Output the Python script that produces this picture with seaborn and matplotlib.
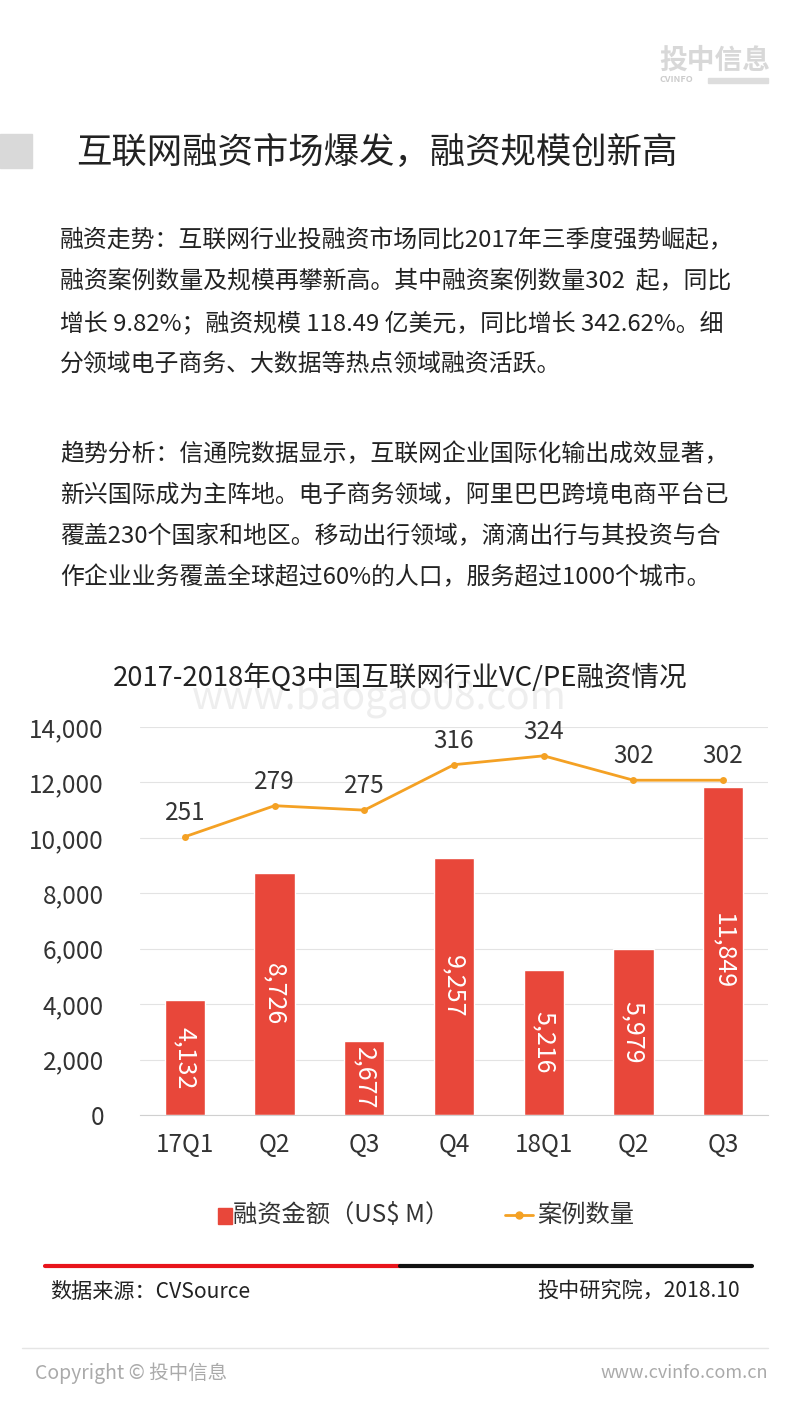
import matplotlib
matplotlib.use("Agg")
import matplotlib.pyplot as plt
import seaborn as sns
import pandas as pd
from matplotlib.patches import Rectangle
from matplotlib.lines import Line2D

quarters = ["17Q1", "Q2", "Q3", "Q4", "18Q1", "Q2 ", "Q3 "]
amounts = [4132, 8726, 2677, 9257, 5216, 5979, 11849]
cases = [251, 279, 275, 316, 324, 302, 302]

sns.set_style("white")
plt.rcParams['font.family'] = ['Noto Sans CJK SC', 'DejaVu Sans']

W, H = 800, 1422
fig = plt.figure(figsize=(8, 14.22), dpi=100)

def fx(x):
    return x / W

def fy(y):
    return 1 - y / H

# header
fig.text(fx(659), fy(61), "投中信息", fontsize=20, color="#d8d8d8", weight="bold", va="center")
fig.text(fx(660), fy(80), "CVINFO", fontsize=6.5, color="#cccccc", weight="bold", va="center")
fig.patches.append(Rectangle((fx(708), fy(83)), fx(60), 5 / H, transform=fig.transFigure, color="#dddddd"))
fig.patches.append(Rectangle((0, fy(168)), fx(32), 34 / H, transform=fig.transFigure, color="#d9d9d9"))
fig.text(fx(76), fy(153), "互联网融资市场爆发，融资规模创新高", fontsize=25.5, color="#222222", va="center")

para1 = ["融资走势：互联网行业投融资市场同比2017年三季度强势崛起，",
         "融资案例数量及规模再攀新高。其中融资案例数量302  起，同比",
         "增长 9.82%；融资规模 118.49 亿美元，同比增长 342.62%。细",
         "分领域电子商务、大数据等热点领域融资活跃。"]
para2 = ["趋势分析：信通院数据显示，互联网企业国际化输出成效显著，",
         "新兴国际成为主阵地。电子商务领域，阿里巴巴跨境电商平台已",
         "覆盖230个国家和地区。移动出行领域，滴滴出行与其投资与合",
         "作企业业务覆盖全球超过60%的人口，服务超过1000个城市。"]
for i, t in enumerate(para1):
    fig.text(fx(60), fy(241 + 41 * i), t, fontsize=17.2, color="#222222", va="center")
for i, t in enumerate(para2):
    fig.text(fx(60), fy(455 + 41 * i), t, fontsize=17.2, color="#222222", va="center")

fig.text(fx(192), fy(698), "www.baogao08.com", fontsize=28, color="#eeeeee", va="center", zorder=0)
fig.text(0.5, fy(678), "2017-2018年Q3中国互联网行业VC/PE融资情况", fontsize=19.8, color="#222222",
         ha="center", va="center", zorder=3)

# chart
ax = fig.add_axes([fx(140), fy(1115), fx(628), (1115 - 727) / H])
df = pd.DataFrame({"q": quarters, "amt": amounts, "n": cases})
sns.barplot(data=df, x="q", y="amt", color="#E8473A", width=0.45, saturation=1, ax=ax, zorder=2)
ax.set_ylim(0, 14000)
ax.set_yticks(range(0, 14001, 2000))
ax.set_yticklabels([f"{v:,}" for v in range(0, 14001, 2000)], fontsize=17.5, color="#333333")
ax.set_xticks(range(len(quarters)))
ax.set_xticklabels([q.strip() for q in quarters], fontsize=17.5, color="#333333")
ax.tick_params(axis="x", pad=12, length=0)
ax.tick_params(axis="y", length=0, pad=26)
ax.set_xlabel("")
ax.set_ylabel("")
ax.grid(axis="y", color="#e3e3e3", lw=0.8, zorder=0)
for s in ["top", "right", "left"]:
    ax.spines[s].set_visible(False)
ax.spines["bottom"].set_color("#d0d0d0")
for i, v in enumerate(amounts):
    ax.text(i, v / 2, f"{v:,}", rotation=-90, color="white", fontsize=18, ha="center", va="center")

ax2 = ax.twinx()
sns.lineplot(x=list(range(len(quarters))), y=cases, color="#F4A124", marker="o", markersize=5,
             markeredgewidth=0, lw=2, ax=ax2)
ax2.set_ylim(0, 350)
ax2.axis("off")
for i, v in enumerate(cases):
    ax2.text(i, v + 10, str(v), ha="center", va="bottom", fontsize=17.5, color="#333333")
ax.set_xlim(-0.5, len(quarters) - 0.5)

# legend
fig.patches.append(Rectangle((fx(218), fy(1224)), fx(14), 16 / H, transform=fig.transFigure, color="#E8473A"))
fig.text(fx(233), fy(1215), "融资金额（US$ M）", fontsize=17.5, color="#333333", va="center")
fig.lines.append(Line2D([fx(505), fx(533)], [fy(1215), fy(1215)], transform=fig.transFigure,
                        color="#F4A124", lw=2))
fig.lines.append(Line2D([fx(519)], [fy(1215)], transform=fig.transFigure, color="#F4A124",
                        marker="o", markersize=5))
fig.text(fx(537), fy(1215), "案例数量", fontsize=17.5, color="#333333", va="center")

# footer
fig.lines.append(Line2D([fx(45), fx(400)], [fy(1266), fy(1266)], transform=fig.transFigure, color="#e8141c", lw=3))
fig.lines.append(Line2D([fx(400), fx(752)], [fy(1266), fy(1266)], transform=fig.transFigure, color="#111111", lw=3))
fig.text(fx(50), fy(1292), "数据来源：CVSource", fontsize=15.2, color="#222222", va="center")
fig.text(fx(740), fy(1292), "投中研究院，2018.10", fontsize=15.2, color="#222222", va="center", ha="right")
fig.lines.append(Line2D([fx(22), fx(768)], [fy(1348), fy(1348)], transform=fig.transFigure, color="#e5e5e5", lw=1))
fig.text(fx(35), fy(1373), "Copyright © 投中信息", fontsize=14, color="#aaaaaa", va="center")
fig.text(fx(768), fy(1373), "www.cvinfo.com.cn", fontsize=13, color="#aaaaaa", va="center", ha="right")

fig.savefig("out.png", dpi=100)
